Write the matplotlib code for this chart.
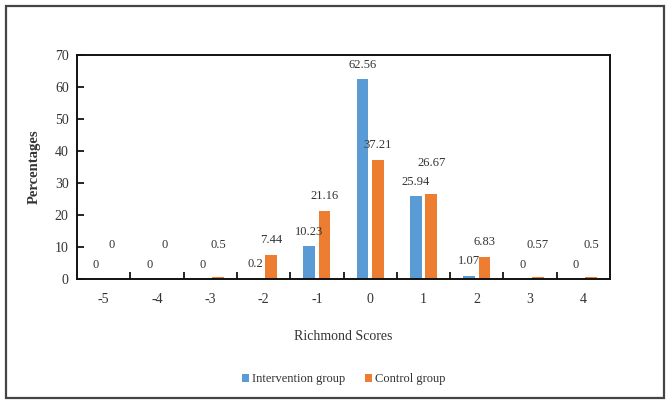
import numpy as np
import matplotlib
matplotlib.use('Agg')
import matplotlib.pyplot as plt
import matplotlib.patches as mpatches

# data
scores = ['-5', '-4', '-3', '-2', '-1', '0', '1', '2', '3', '4']
intervention = [0, 0, 0, 0.2, 10.23, 62.56, 25.94, 1.07, 0, 0]
control = [0, 0, 0.5, 7.44, 21.16, 37.21, 26.67, 6.83, 0.57, 0.5]
ctrl_nudge = [0, 0, 0, 0, 0, 0, 5, 0, 0, 0]  # extra lift so 26.67 clears 25.94

BLUE = '#5B9BD5'
ORANGE = '#ED7D31'
TXT = '#333333'

plt.rcParams['font.family'] = ['Liberation Serif', 'DejaVu Serif']

fig = plt.figure(figsize=(6.7, 4.04), dpi=100)
ax = fig.add_axes([77 / 670, 1 - 279 / 404, 533 / 670, 224 / 404])

x = np.arange(len(scores))
w = 0.22
off = 0.145
ax.bar(x - off, intervention, w, color=BLUE, label='Intervention group')
ax.bar(x + off, control, w, color=ORANGE, label='Control group')

for i in range(len(scores)):
    ax.text(x[i] - off, intervention[i] + 4.4, f'{intervention[i]:g}',
            ha='center', va='center', fontsize=9, color=TXT)
    yc = max(control[i] + 4.7, 10.6) + ctrl_nudge[i]
    ax.text(x[i] + off, yc, f'{control[i]:g}',
            ha='center', va='center', fontsize=9, color=TXT)

ax.set_xlim(-0.5, len(scores) - 0.5)
ax.set_ylim(0, 70)
ax.set_yticks(range(0, 71, 10))
ax.set_xticks(x)
ax.set_xticklabels(scores)
ax.set_xticks(np.arange(0.5, len(scores) - 1, 1), minor=True)
ax.tick_params(axis='x', which='major', length=0, pad=10, labelsize=10, labelcolor=TXT)
ax.tick_params(axis='x', which='minor', direction='in', length=5, width=1.2)
ax.tick_params(axis='y', direction='in', length=5, width=1.2, pad=6,
               labelsize=10, labelcolor=TXT)
for sp in ax.spines.values():
    sp.set_linewidth(1.4)
    sp.set_edgecolor('#111111')

ax.set_ylabel('Percentages', fontsize=10.5, fontweight='bold', color=TXT, labelpad=10)
ax.set_xlabel('Richmond Scores', fontsize=10, color=TXT, labelpad=17)

ax.legend(loc='upper center', bbox_to_anchor=(0.5, -0.37), ncol=2, frameon=False,
          fontsize=9, handlelength=0.6, handleheight=0.6, handletextpad=0.2,
          columnspacing=1.6, labelcolor=TXT)

# outer frame
fig.patches.append(mpatches.Rectangle((6 / 670, 6 / 404), 658 / 670, 392 / 404,
                                      transform=fig.transFigure, fill=False,
                                      edgecolor='#444444', lw=1.6))

fig.savefig('out.png', dpi=100)
